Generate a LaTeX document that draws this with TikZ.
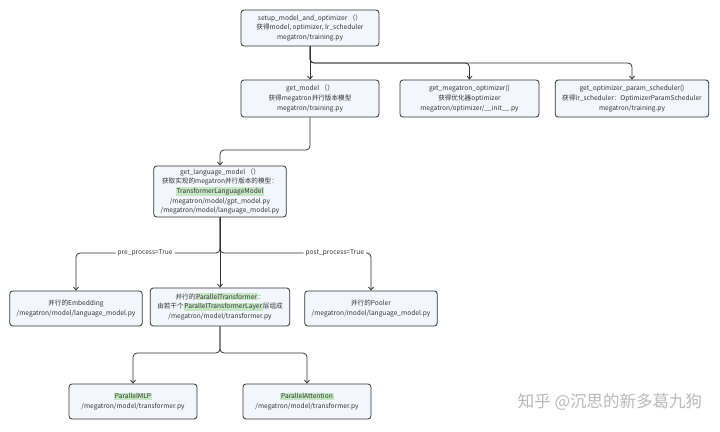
\documentclass[tikz,border=0pt]{standalone}
\usepackage{fontspec}
\setmainfont{Noto Sans CJK SC}
\usetikzlibrary{arrows.meta,positioning}
\definecolor{boxfill}{HTML}{F4F6FD}
\definecolor{boxline}{HTML}{333333}
\definecolor{hlgreen}{HTML}{C6E7C4}
\newcommand{\hlmark}[1]{{\setlength{\fboxsep}{0.8pt}\colorbox{hlgreen}{#1}}}

\begin{document}
\begin{tikzpicture}[
		x=1pt, y=-1pt,
		>={Straight Barb[length=3pt,width=5pt]},
		font=\fontsize{6.6}{9.6}\selectfont,
		block/.style={
			rectangle,
			rounded corners=3pt,
			draw=boxline,
			line width=0.8pt,
			fill=boxfill,
			text=boxline,
			text centered,
			inner sep=1pt
		},
		link/.style={
			draw=boxline,
			line width=0.8pt,
			->,
			rounded corners=4pt
		},
		cond/.style={
			fill=white,
			text=boxline,
			inner sep=2pt
		}
		]
		\useasboundingbox (0,0) rectangle (720,431);
		
		% We start by placing the blocks
		
		\node [block, minimum width=138pt, minimum height=36pt] (setup) at (310,28)
		{%
			\begin{tabular}{c}
			setup\_model\_and\_optimizer （）\\
			获得model, optimizer, lr\_scheduler\\
			megatron/training.py
			\end{tabular}
		};
		
		\node [block, minimum width=138pt, minimum height=37pt] (getmodel) at (310,98.5)
		{%
			\begin{tabular}{c}
			get\_model （）\\
			获得megatron并行版本模型\\
			megatron/training.py
			\end{tabular}
		};
		
		\node [block, minimum width=139pt, minimum height=37pt] (optim) at (469.5,98.5)
		{%
			\begin{tabular}{c}
			get\_megatron\_optimizer()\\
			获得优化器optimizer\\
			megatron/optimizer/\_\_init\_\_.py
			\end{tabular}
		};
		
		\node [block, minimum width=152pt, minimum height=37pt] (sched) at (632,98.5)
		{%
			\begin{tabular}{c}
			get\_optimizer\_param\_scheduler()\\
			获得lr\_scheduler：OptimizerParamScheduler\\
			megatron/training.py
			\end{tabular}
		};
		
		\node [block, minimum width=122pt, minimum height=51pt] (langmodel) at (220,191.5)
		{%
			\begin{tabular}{c}
			get\_language\_model （）\\
			获取实现的megatron并行版本的模型：\\
			\hlmark{TransformerLanguageModel}\\
			/megatron/model/gpt\_model.py\\
			/megatron/model/language\_model.py
			\end{tabular}
		};
		
		\node [block, minimum width=128pt, minimum height=35pt] (embed) at (76,308.5)
		{%
			\begin{tabular}{c}
			并行的Embedding\\
			/megatron/model/language\_model.py
			\end{tabular}
		};
		
		\node [block, minimum width=127pt, minimum height=38pt] (ptrans) at (220,307)
		{%
			\begin{tabular}{c}
			并行的\hlmark{ParallelTransformer}：\\
			由若干个\hlmark{ParallelTransformerLayer}层组成\\
			/megatron/model/transformer.py
			\end{tabular}
		};
		
		\node [block, minimum width=128pt, minimum height=35pt] (pooler) at (371,308.5)
		{%
			\begin{tabular}{c}
			并行的Pooler\\
			/megatron/model/language\_model.py
			\end{tabular}
		};
		
		\node [block, minimum width=128pt, minimum height=35pt] (mlp) at (133,401.5)
		{%
			\begin{tabular}{c}
			\hlmark{ParallelMLP}\\
			/megatron/model/transformer.py
			\end{tabular}
		};
		
		\node [block, minimum width=128pt, minimum height=35pt] (attn) at (307,401.5)
		{%
			\begin{tabular}{c}
			\hlmark{ParallelAttention}\\
			/megatron/model/transformer.py
			\end{tabular}
		};
		
		\node [text=gray!55, font=\fontsize{16.5}{17}\selectfont] (mark) at (610,402) {知乎 @沉思的新多葛九狗};
		
		% then the branch points
		\coordinate (split1) at (310,63);
		\coordinate (split2) at (310,150);
		\coordinate (split3) at (220,253);
		\coordinate (split4) at (220,353);
		
		\draw [link] (setup) -- (getmodel);
		\draw [link] (setup.south) -- (split1) -| (optim.north);
		\draw [link] (setup.south) -- (split1) -| (sched.north);
		\draw [link] (getmodel.south) -- (split2) -| (langmodel.north);
		\draw [link] (langmodel) -- (ptrans);
		\draw [link] (langmodel.south) -- (split3) -| node [cond, pos=0.26] {pre\_process=True} (embed.north);
		\draw [link] (langmodel.south) -- (split3) -| node [cond, pos=0.38] {post\_process=True} (pooler.north);
		\draw [link] (ptrans.south) -- (split4) -| (mlp.north);
		\draw [link] (ptrans.south) -- (split4) -| (attn.north);
		
		\end{tikzpicture}
\end{document}
